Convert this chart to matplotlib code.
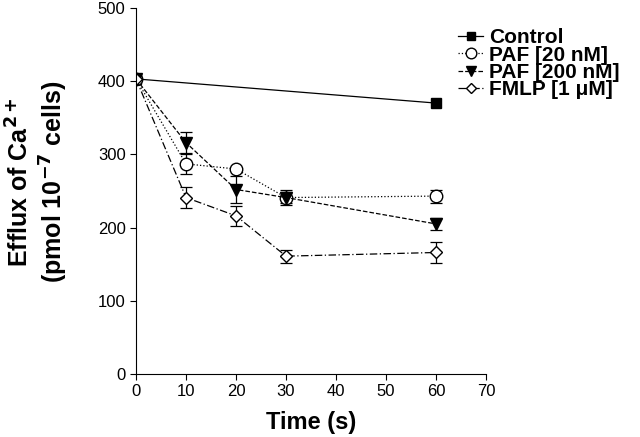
import matplotlib
matplotlib.use("Agg")
import matplotlib.pyplot as plt
from matplotlib.lines import Line2D

plt.rcParams['font.family'] = ['Liberation Sans', 'DejaVu Sans']

time_ctrl = [0, 60]
ctrl = [403, 370]

time = [0, 10, 20, 30, 60]
paf20 = [403, 287, 280, 241, 243]
paf20_err = [0, 14, 0, 10, 9]
paf200 = [403, 316, 252, 241, 205]
paf200_err = [0, 14, 18, 8, 8]
fmlp = [403, 241, 216, 161, 166]
fmlp_err = [0, 14, 14, 9, 14]

labels = ['Control', 'PAF [20 nM]', 'PAF [200 nM]', 'FMLP [1 \u03bcM]']

fig = plt.figure(figsize=(6.4, 4.37), dpi=100)
ax = fig.add_axes([0.2125, 0.144, 0.547, 0.838])

styles = [
    dict(ls='-', marker='s', ms=7, mfc='black'),
    dict(ls=':', marker='o', ms=9, mfc='white'),
    dict(ls='--', marker='v', ms=8, mfc='black'),
    dict(ls=(0, (6, 2, 1, 2)), marker='D', ms=6.5, mfc='white'),
]

ax.plot(time_ctrl, ctrl, color='black', lw=0.9, mec='black', **styles[0])
for y, err, st in zip([paf20, paf200, fmlp], [paf20_err, paf200_err, fmlp_err], styles[1:]):
    ax.errorbar(time, y, yerr=err, color='black', lw=0.9, mec='black',
                capsize=4.5, elinewidth=0.9, capthick=0.9, **st)

ax.set_xlim(0, 70)
ax.set_ylim(0, 500)
ax.set_xticks(range(0, 71, 10))
ax.set_yticks(range(0, 501, 100))
ax.spines['top'].set_visible(False)
ax.spines['right'].set_visible(False)
ax.tick_params(labelsize=12, direction='out', length=4)

ax.set_xlabel('Time (s)', fontsize=17, fontweight='bold', labelpad=8)
# two-line y label, placed line by line
fig.text(0.031, 0.5835, 'Efflux of Ca$^{\\mathbf{2+}}$', fontsize=18,
         fontweight='bold', rotation=90, ha='center', va='center')
fig.text(0.084, 0.5835, '(pmol 10$^{\\mathbf{-7}}$ cells)', fontsize=18,
         fontweight='bold', rotation=90, ha='center', va='center')

handles = []
for st in styles:
    s = dict(st)
    s['ms'] = s['ms'] * 0.85
    handles.append(Line2D([], [], color='black', lw=0.9, mec='black', **s))
fig.legend(handles, labels, loc='upper left', bbox_to_anchor=(0.716, 0.935),
           frameon=False, prop={'weight': 'bold', 'size': 15},
           handlelength=1.2, handletextpad=0.3, labelspacing=-0.08,
           borderaxespad=0, borderpad=0)

fig.savefig('out.png', dpi=100)
